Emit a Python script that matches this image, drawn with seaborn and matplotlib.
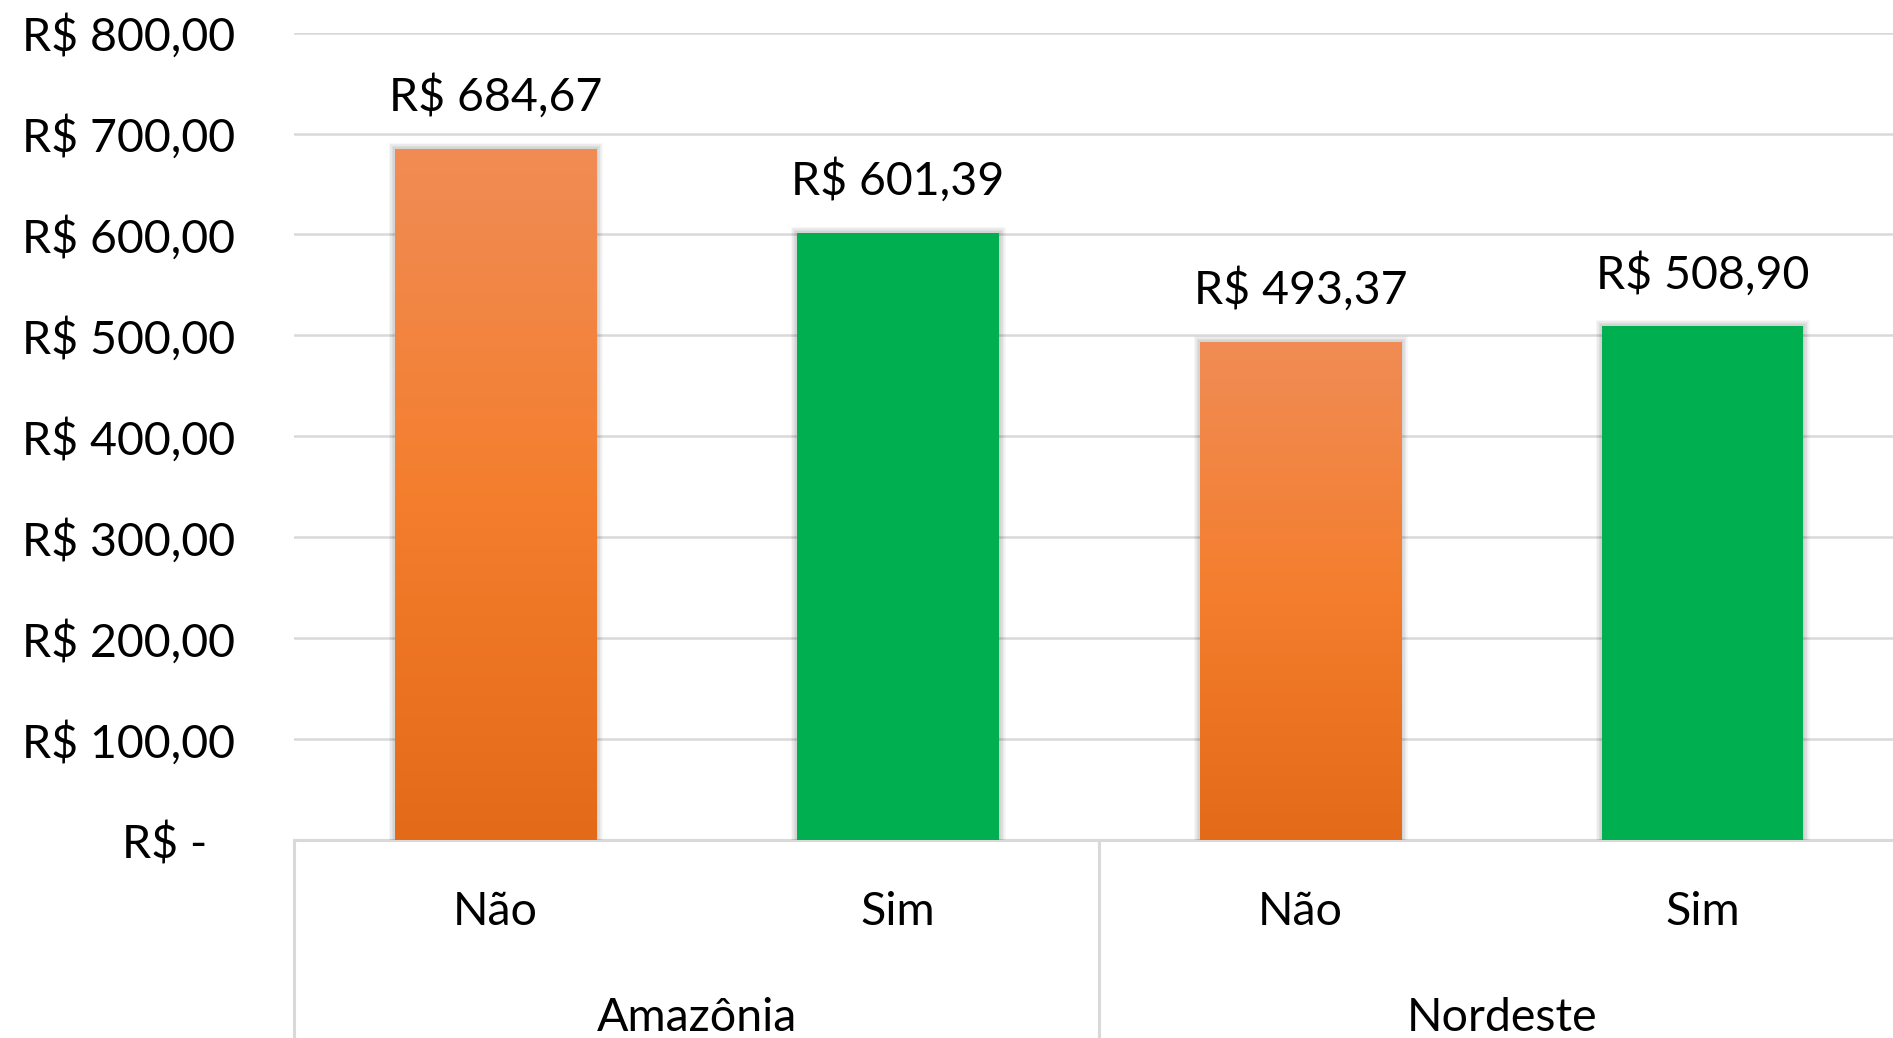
import numpy as np
import pandas as pd
import seaborn as sns
import matplotlib.pyplot as plt
import matplotlib.patheffects as pe
from matplotlib.colors import LinearSegmentedColormap, to_hex
from matplotlib.transforms import ScaledTranslation

regions = ["Amazônia", "Amazônia", "Nordeste", "Nordeste"]
answers = ["Não", "Sim", "Não", "Sim"]
values = [684.67, 601.39, 493.37, 508.90]
y_ticks = [0, 100, 200, 300, 400, 500, 600, 700, 800]

df = pd.DataFrame({"region": regions, "answer": answers, "value": values})
df["slot"] = [f"{r}|{a}" for r, a in zip(regions, answers)]

sns.set_theme(style="white")
plt.rcParams["font.family"] = ["Lato", "DejaVu Sans"]
FS = 33.5
GRID = "#D9D9D9"
ORANGE = "#ED7D31"
GREEN = "#00B050"

fig = plt.figure(figsize=(18.93, 10.38), dpi=100)
ax = fig.add_axes([294.4 / 1893, 198 / 1038, 1609.6 / 1893, 807.4 / 1038])

sns.barplot(data=df, x="slot", y="value", hue="answer", dodge=False, width=0.5,
            palette={"Não": ORANGE, "Sim": GREEN}, saturation=1,
            legend=False, ax=ax, zorder=3)

ax.set_xlim(-0.5, 3.5)
ax.set_ylim(0, 800)
ax.set_yticks(y_ticks)
ax.set_yticklabels([f"R$ {v:.2f}".replace(".", ",") if v else "R$ -" for v in y_ticks])
ax.tick_params(axis="y", length=0, pad=43, labelsize=FS, labelcolor="black")
ax.yaxis.grid(True, color=GRID, linewidth=1.8, zorder=0)
ax.set_axisbelow(True)
for lab in ax.get_yticklabels():
    lab.set_va("center_baseline")
    if lab.get_text() == "R$ -":
        lab.set_transform(lab.get_transform() + ScaledTranslation(-27 / 100, 0, fig.dpi_scale_trans))
for s in ["left", "right", "top"]:
    ax.spines[s].set_visible(False)
ax.spines["bottom"].set_color(GRID)
ax.spines["bottom"].set_linewidth(2.2)
ax.set_xticks([])
ax.set_xlabel("")
ax.set_ylabel("")

# soft shadow round every bar
glow = [pe.Stroke(linewidth=lw, foreground="black", alpha=0.045) for lw in (9, 7, 5, 3)]
for patch in ax.patches:
    patch.set_edgecolor("none")
    patch.set_path_effects(glow + [pe.Normal()])

# orange gradient on the "Não" bars
cmap = LinearSegmentedColormap.from_list("org", ["#E36A18", "#F47E2E", "#F08C55"])
grad = np.linspace(0, 1, 256).reshape(-1, 1)
for patch in list(ax.patches):
    if to_hex(patch.get_facecolor()).lower() != ORANGE.lower():
        continue
    x0, y0 = patch.get_x(), patch.get_y()
    w, h = patch.get_width(), patch.get_height()
    im = ax.imshow(grad, cmap=cmap, aspect="auto", origin="lower",
                   extent=[x0, x0 + w, y0, y0 + h], zorder=4)
    im.set_clip_path(patch)
ax.set_xlim(-0.5, 3.5)
ax.set_ylim(0, 800)

# data labels
for i, v in enumerate(values):
    txt = f"R$ {v:.2f}".replace(".", ",")
    ax.annotate(txt, (i, v), xytext=(0, 27.5), textcoords="offset points",
                ha="center", va="baseline", fontsize=FS, color="black", zorder=5)

# multi-level category axis
tr = ax.get_xaxis_transform()
for i, a in enumerate(answers):
    ax.text(i, -68 / 807.4, a, transform=tr, ha="center", va="center_baseline",
            fontsize=FS, color="black", clip_on=False)
for grp, cx in [("Amazônia", 0.5), ("Nordeste", 2.5)]:
    ax.text(cx, -174 / 807.4, grp, transform=tr, ha="center", va="center_baseline",
            fontsize=FS, color="black", clip_on=False)
for xb in [-0.5, 1.5, 3.5]:
    ax.plot([xb, xb], [0, -0.3], transform=tr, color=GRID, linewidth=2.2,
            clip_on=False, zorder=2)

fig.savefig("out.png", dpi=100)
